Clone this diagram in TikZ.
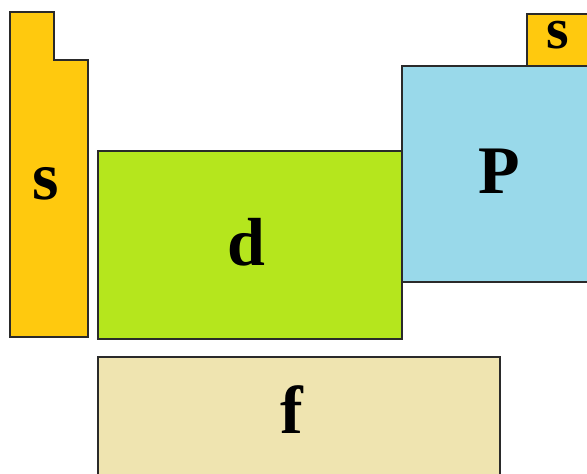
\documentclass[tikz,border=0pt]{standalone}
\usepackage{fontspec}
\setmainfont{Liberation Serif}
\definecolor{sgold}{HTML}{FFC90E}
\definecolor{dlime}{HTML}{B5E61D}
\definecolor{pblue}{HTML}{99D9EA}
\definecolor{ftan}{HTML}{EFE4B0}
\definecolor{edge}{HTML}{2A2A2A}
\tikzset{
  blockshape/.style={draw=edge, line width=1.4pt, line join=miter},
  biglabel/.style={anchor=base, inner sep=0pt, font=\fontsize{68}{68}\selectfont\bfseries},
  smalllabel/.style={anchor=base, inner sep=0pt, font=\fontsize{58}{58}\selectfont\bfseries}
}
\begin{document}
\begin{tikzpicture}[x=1pt,y=-1pt]
\useasboundingbox (0,0) rectangle (587,474);
\begin{scope}
\clip (0,0) rectangle (587,474);
% s block (left)
\draw[blockshape, fill=sgold] (10,12) -- (54,12) -- (54,60) -- (88,60) -- (88,337) -- (10,337) -- cycle;
% d block
\draw[blockshape, fill=dlime] (98,151) rectangle (402,339);
% small s block (top right)
\draw[blockshape, fill=sgold] (527,14) rectangle (600,66);
% p block
\draw[blockshape, fill=pblue] (402,66) rectangle (600,282);
% f block
\draw[blockshape, fill=ftan] (98,357) rectangle (500,490);
\end{scope}
\node[biglabel] (slabel) at (46,199) {s};
\node[biglabel] (dlabel) at (246,265) {d};
\node[biglabel] (plabel) at (499,193) {P};
\node[biglabel] (flabel) at (292,433) {f};
\node[smalllabel] (s2label) at (558,48) {s};
\end{tikzpicture}
\end{document}
